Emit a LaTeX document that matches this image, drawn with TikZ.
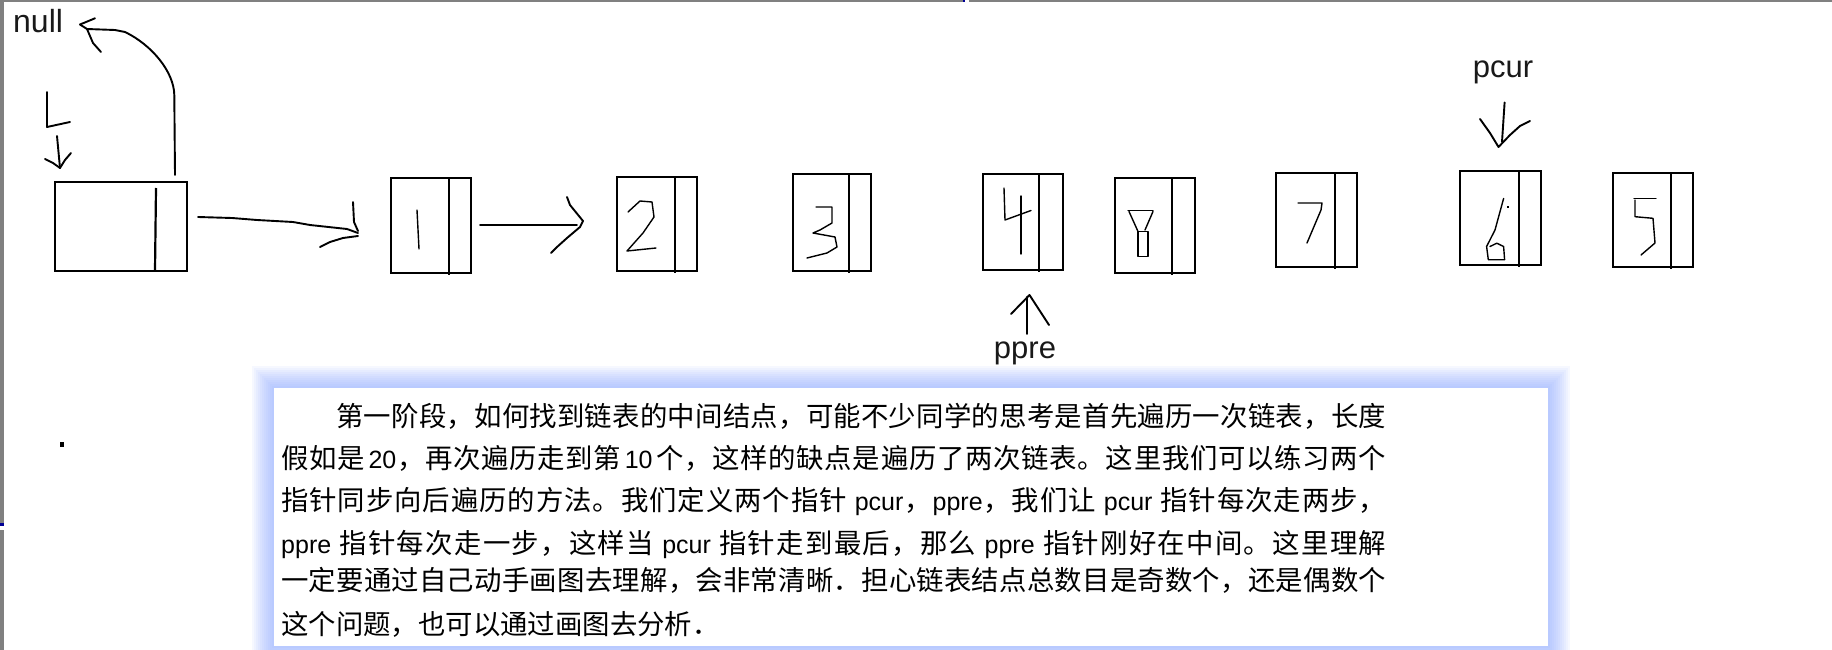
\documentclass[tikz,border=0pt]{standalone}
\usepackage{fontspec}
\setmainfont{Liberation Sans}
\newfontfamily\cjk{Noto Sans CJK SC}
\definecolor{edgegray}{RGB}{128,128,128}
\definecolor{markblue}{RGB}{0,0,150}
\definecolor{glowblue}{RGB}{140,168,255}
\newcommand\Lt[1]{{\rmfamily\fontsize{25}{30}\selectfont #1}}
\def\sp#1{#1\spn}
\def\spn#1{\ifx\relax#1\else\hskip0pt plus 1pt\relax#1\expandafter\spn\fi}
\newcommand\gl[1][7pt]{\hskip #1 plus 1pt\relax}
\begin{document}
\begin{tikzpicture}[x=1pt,y=-1pt,
  lbox/.style={draw,line width=2.2pt,inner sep=0pt,rectangle},
  divline/.style={line width=2.2pt},
  hand/.style={line width=1.9pt,line join=round,line cap=round},
  digit/.style={line width=1.4pt,line join=round,line cap=round},
  lab/.style={inner sep=0pt,font=\fontsize{31}{36}\selectfont,text=black!90},
  txt/.style={inner sep=0pt,anchor=base west,font=\cjk\fontsize{27.4}{41}\selectfont}]
\useasboundingbox (0,0) rectangle (1832,650);
\clip (0,0) rectangle (1832,650);
\fill[white] (0,0) rectangle (1832,650);
% borders
\fill[edgegray] (0,0) rectangle (963,2.3);
\fill[edgegray] (969,0) rectangle (1832,2.3);
\fill[markblue] (963,0) rectangle (965,2.3);
\fill[edgegray] (0,0) rectangle (4,523);
\fill[edgegray] (0,530) rectangle (4,650);
\fill[markblue] (0,523) rectangle (4,526);
% boxes
\node[lbox,minimum width=132pt,minimum height=89pt] (head) at (121,226.5) {};
\node[lbox,minimum width=80pt,minimum height=95pt] (b1) at (431,225.5) {};
\node[lbox,minimum width=80pt,minimum height=94pt] (b2) at (657,224) {};
\node[lbox,minimum width=78pt,minimum height=97pt] (b3) at (832,222.5) {};
\node[lbox,minimum width=80pt,minimum height=96pt] (b4) at (1023,222) {};
\node[lbox,minimum width=80pt,minimum height=95pt] (b8) at (1155,225.5) {};
\node[lbox,minimum width=81pt,minimum height=94pt] (b7) at (1316.5,220) {};
\node[lbox,minimum width=81pt,minimum height=94pt] (b6) at (1500.5,218) {};
\node[lbox,minimum width=80pt,minimum height=94pt] (b5) at (1653,220) {};
% dividers
\draw[divline] (156,188) -- (155,271);
\draw[divline] (449,178) -- (449,275);
\draw[divline] (675,177) -- (675,273);
\draw[divline] (849,174) -- (849,273);
\draw[divline] (1039,174) -- (1039,272);
\draw[divline] (1172,178) -- (1172,275);
\draw[divline] (1335,173) -- (1335,269);
\draw[divline] (1519,171) -- (1519,267);
\draw[divline] (1671,173) -- (1671,269);
% digits
\draw[digit] (417,210) -- (419,249);
\draw[digit] (628,212) -- (640,201) -- (652,202) -- (654,217) -- (643,233) -- (627,251) -- (656,248);
\draw[digit] (816,207) -- (832,207) -- (832,223) -- (820,230) -- (813,233) -- (835,237) -- (837,247) -- (827,253) -- (807,258);
\draw[digit] (1004,188) -- (1005,220) -- (1031,210.5);
\draw[digit] (1021,196) -- (1021,254);
\draw[digit] (1128,210.5) -- (1153,210.5);
\draw[digit] (1129,211.5) -- (1138,231.5);
\draw[digit] (1153,211.5) -- (1145,230);
\draw[digit] (1138,231.5) rectangle (1148,256.6);
\draw[digit] (1298,203) -- (1322,203) -- (1321,210) -- (1307,243);
\draw[digit] (1503.6,198.5) -- (1495,230) -- (1486.6,246.5) -- (1488.3,259.7) -- (1504.6,259.7) -- (1503.6,246.5) -- (1496.8,243.2) -- (1490,246.5);
\fill (1507,206) rectangle (1509,208);
\draw[digit] (1656,198.5) -- (1634,198.5);
\draw[digit] (1635,200) -- (1635,216.7) -- (1653,218.3) -- (1655,243) -- (1641,255);
% labels
\node[lab,anchor=base west,font=\fontsize{32}{36}\selectfont] (null) at (13,33) {null};
\node[lab,anchor=base] (pcur) at (1503,78) {pcur};
\node[lab,anchor=base] (ppre) at (1025,358) {ppre};
% L and its arrow
\draw[hand] (47,92) -- (47,127) -- (70,122);
\coordinate (ls) at (57,136);
\coordinate (lt) at (60,168);
\draw[hand] (ls) -- (lt);
\draw[hand] (45,159) -- (53,163) -- (lt) -- (65,160) -- (71,153);
% curve to null
\coordinate (ns) at (175,175);
\coordinate (nt) at (80,24.5);
\draw[hand] (ns) -- (174.3,95) .. controls (174,72) and (152,45) .. (125,32) -- (115,30) -- (87,29) -- (nt);
\draw[hand] (nt) -- (95,18.3);
\draw[hand] (87,29) -- (93,43) -- (101,52);
% head -> b1
\coordinate (a1s) at (198,217);
\coordinate (a1t) at (358,233);
\draw[hand] (a1s) -- (232,218) -- (257,220) -- (293,222) -- (310,225) -- (347,229) -- (a1t);
\draw[hand] (353,202) -- (354,222) -- (358,231);
\draw[hand] (320,247) -- (330,242) -- (343,238) -- (358,236);
% b1 -> b2
\coordinate (a2s) at (480,225);
\coordinate (a2t) at (583,221);
\draw[hand] (a2s) -- (577,225);
\draw[hand] (567,197) -- (570,205) -- (a2t) -- (580,227) -- (567,238) -- (557,247) -- (551,253);
% pcur arrow
\coordinate (pct) at (1498.5,147);
\draw[hand] (1504.6,102.5) -- (1502,142);
\draw[hand] (1480,119) -- (1490,133) -- (pct) -- (1510,135) -- (1520,126) -- (1530,121);
% ppre arrow
\coordinate (ppt) at (1029.5,295);
\draw[hand] (1027,334) -- (1027,297);
\draw[hand] (1011,314) -- (ppt) -- (1049,325);
% dot
\fill (60,442) rectangle (64,447);
% text panel glow
\foreach \i in {1,...,11} {
  \fill[glowblue,opacity=0.075] ({274-2*\i},{388-2*\i}) rectangle ({1548+2*\i},{646+2*\i});
}
\node[fill=white,inner sep=0pt,minimum width=1274pt,minimum height=258pt] (panel) at (911,517) {};
% text lines
\node[txt] (t1) at (336,426) {\makebox[1050pt][s]{\sp 第一阶段，如何找到链表的中间结点，可能不少同学的思考是首先遍历一次链表，长度\relax}};
\node[txt] (t2) at (281,468) {\makebox[1105pt][s]{\sp 假如是\relax\gl[3pt]\Lt{20}\spn ，再次遍历走到第\relax\gl[3pt]\Lt{10}\gl[3pt]\sp 个，这样的缺点是遍历了两次链表。这里我们可以练习两个\relax}};
\node[txt] (t3) at (281,510) {\makebox[1105pt][s]{\sp 指针同步向后遍历的方法。我们定义两个指针\relax\gl\Lt{pcur}\spn ，\relax\gl[0pt]\Lt{ppre}\spn ，我们让\relax\gl\Lt{pcur}\gl\sp 指针每次走两步，\relax}};
\node[txt] (t4) at (281,553) {\makebox[1105pt][s]{\Lt{ppre}\gl\sp 指针每次走一步，这样当\relax\gl\Lt{pcur}\gl\sp 指针走到最后，那么\relax\gl\Lt{ppre}\gl\sp 指针刚好在中间。这里理解\relax}};
\node[txt] (t5) at (281,590) {\makebox[1105pt][s]{\sp 一定要通过自己动手画图去理解，会非常清晰．担心链表结点总数目是奇数个，还是偶数个\relax}};
\node[txt] (t6) at (281,634) {\sp 这个问题，也可以通过画图去分析．\relax};
\end{tikzpicture}
\end{document}
